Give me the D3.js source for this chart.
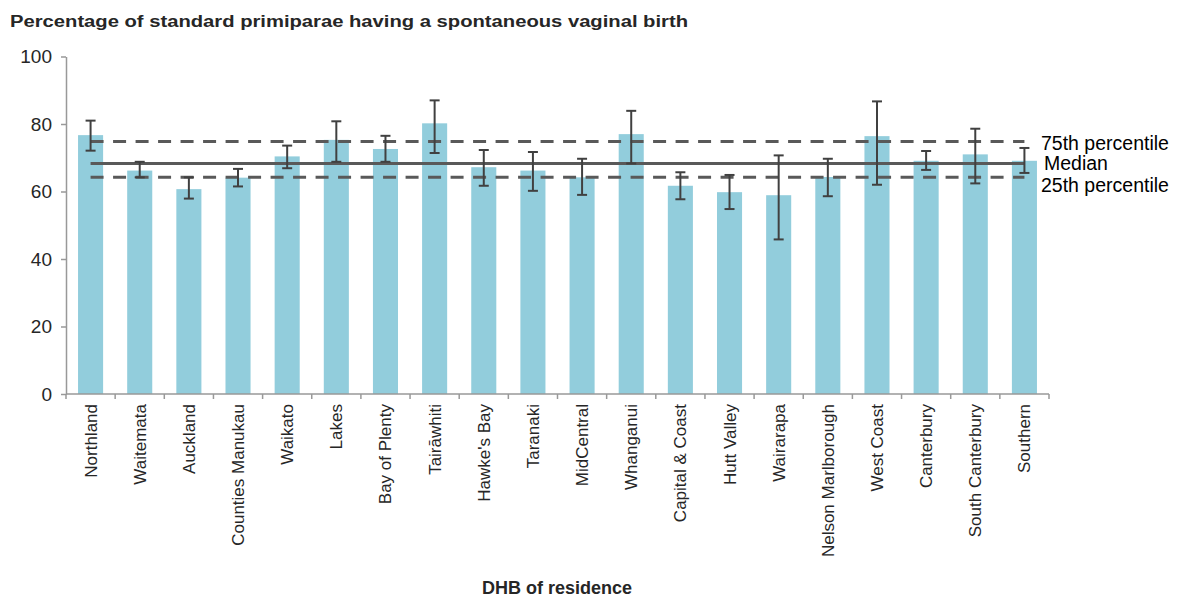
<!DOCTYPE html>
<html>
<head>
<meta charset="utf-8">
<script src="https://cdn.jsdelivr.net/npm/d3@7"></script>
<style>
  body { margin: 0; background: #fff; }
  text { font-family: "Liberation Sans", Arial, sans-serif; }
</style>
</head>
<body>
<div id="chart"></div>
<script>
// DHB names, in chart order
var dhbs = ['Northland', 'Waitemata', 'Auckland', 'Counties Manukau', 'Waikato', 'Lakes',
    'Bay of Plenty', 'Tairāwhiti', "Hawke's Bay", 'Taranaki', 'MidCentral', 'Whanganui',
    'Capital & Coast', 'Hutt Valley', 'Wairarapa', 'Nelson Marlborough', 'West Coast',
    'Canterbury', 'South Canterbury', 'Southern'];

// percentage with spontaneous vaginal birth
var pct = [76.7, 66.2, 60.7, 64.1, 70.4, 75.3, 72.6, 80.2, 67.2, 66.2,
    64.2, 77.0, 61.7, 59.8, 58.9, 64.3, 76.4, 69.1, 71.0, 69.1];

// 95% confidence interval bounds
var ciLow = [72.1, 64.2, 57.9, 61.5, 66.9, 68.8, 68.8, 71.4, 61.7, 60.2,
    59.0, 68.3, 57.7, 54.8, 45.8, 58.6, 62.0, 66.4, 62.4, 65.5];
var ciHigh = [81.0, 68.8, 64.2, 66.7, 73.6, 80.8, 76.5, 87.0, 72.3, 71.7,
    69.7, 83.9, 65.7, 64.9, 70.7, 69.7, 86.7, 72.0, 78.6, 72.9];

// national reference lines
var refNames = ['75th percentile', 'Median', '25th percentile'];
var refValues = [74.8, 68.3, 64.2];

var yTicks = [0, 20, 40, 60, 80, 100];

var W = 1179, H = 599;
var m = {t: 56.5, l: 66, r: 130, b: 205};

var svg = d3.select('#chart').append('svg')
    .attr('width', W)
    .attr('height', H);

var x = d3.scaleBand().domain(dhbs)
    .range([m.l, 1049])
    .paddingInner(0.49)
    .paddingOuter(0.245);

var y = d3.scaleLinear().domain([0, 100])
    .range([394, m.t]);

// title
svg.append('text')
    .attr('x', 10).attr('y', 27)
    .attr('font-size', 16).attr('font-weight', 'bold')
    .attr('fill', '#262626')
    .attr('textLength', 678).attr('lengthAdjust', 'spacingAndGlyphs')
    .text('Percentage of standard primiparae having a spontaneous vaginal birth');

// bars
svg.selectAll('.bar').data(dhbs).enter()
    .append('rect').attr('class', 'bar')
    .attr('x', function(d) { return x(d); })
    .attr('y', function(d, i) { return y(pct[i]); })
    .attr('width', x.bandwidth())
    .attr('height', function(d, i) { return y(0) - y(pct[i]); })
    .attr('fill', '#92CDDC');

// reference lines from first to last category centre
var x0 = x(dhbs[0]) + x.bandwidth() / 2;
var x1 = x(dhbs[dhbs.length - 1]) + x.bandwidth() / 2;
svg.selectAll('.ref').data(refValues).enter()
    .append('line').attr('class', 'ref')
    .attr('x1', x0).attr('x2', x1)
    .attr('y1', function(d) { return y(d); })
    .attr('y2', function(d) { return y(d); })
    .attr('stroke', '#595959')
    .attr('stroke-width', 3)
    .attr('stroke-dasharray', function(d, i) { return i === 1 ? null : '13,9.5'; });

// reference labels, nudged apart so they don't collide
var labelShift = [8, 7, 15];
svg.selectAll('.refLabel').data(refNames).enter()
    .append('text').attr('class', 'refLabel')
    .attr('x', function(d, i) { return i === 1 ? 1044 : 1041; })
    .attr('y', function(d, i) { return y(refValues[i]) + labelShift[i]; })
    .attr('font-size', 19.5)
    .attr('fill', '#000')
    .text(function(d) { return d; });

// error bars
var eb = svg.selectAll('.err').data(dhbs).enter()
    .append('g').attr('class', 'err')
    .attr('stroke', '#404040').attr('stroke-width', 2);
eb.append('line')
    .attr('x1', function(d) { return x(d) + x.bandwidth() / 2; })
    .attr('x2', function(d) { return x(d) + x.bandwidth() / 2; })
    .attr('y1', function(d, i) { return y(ciLow[i]); })
    .attr('y2', function(d, i) { return y(ciHigh[i]); });
eb.append('line')
    .attr('x1', function(d) { return x(d) + x.bandwidth() / 2 - 5; })
    .attr('x2', function(d) { return x(d) + x.bandwidth() / 2 + 5; })
    .attr('y1', function(d, i) { return y(ciLow[i]); })
    .attr('y2', function(d, i) { return y(ciLow[i]); });
eb.append('line')
    .attr('x1', function(d) { return x(d) + x.bandwidth() / 2 - 5; })
    .attr('x2', function(d) { return x(d) + x.bandwidth() / 2 + 5; })
    .attr('y1', function(d, i) { return y(ciHigh[i]); })
    .attr('y2', function(d, i) { return y(ciHigh[i]); });

// y axis
var yAxis = svg.append('g')
    .attr('transform', 'translate(' + m.l + ',0)')
    .call(d3.axisLeft(y).tickValues(yTicks).tickSize(5).tickSizeOuter(0));
yAxis.select('.domain').attr('stroke', '#999').attr('stroke-width', 1.5);
yAxis.selectAll('.tick line').attr('stroke', '#999').attr('stroke-width', 1.5);
yAxis.selectAll('.tick text')
    .attr('font-size', 19).attr('fill', '#262626')
    .attr('font-family', '"Liberation Sans", Arial, sans-serif')
    .attr('x', -14);

// x axis with ticks between categories
var xAxis = svg.append('g')
    .attr('transform', 'translate(0,' + y(0) + ')');
xAxis.append('line')
    .attr('x1', m.l).attr('x2', 1049)
    .attr('stroke', '#999').attr('stroke-width', 1.5);
var step = x.step();
xAxis.selectAll('.xt').data(d3.range(dhbs.length + 1)).enter()
    .append('line').attr('class', 'xt')
    .attr('x1', function(i) { return m.l + i * step; })
    .attr('x2', function(i) { return m.l + i * step; })
    .attr('y1', 0).attr('y2', 5)
    .attr('stroke', '#999').attr('stroke-width', 1.5);
xAxis.selectAll('.xl').data(dhbs).enter()
    .append('text').attr('class', 'xl')
    .attr('transform', function(d) {
        return 'translate(' + (x(d) + x.bandwidth() / 2 + 6) + ',' + 10 + ') rotate(-90)';
    })
    .attr('text-anchor', 'end')
    .attr('font-size', 17)
    .attr('fill', '#262626')
    .text(function(d) { return d; });

// x axis title
svg.append('text')
    .attr('x', 557).attr('y', 594)
    .attr('text-anchor', 'middle')
    .attr('font-size', 18).attr('font-weight', 'bold')
    .attr('fill', '#262626')
    .text('DHB of residence');
</script>
</body>
</html>
